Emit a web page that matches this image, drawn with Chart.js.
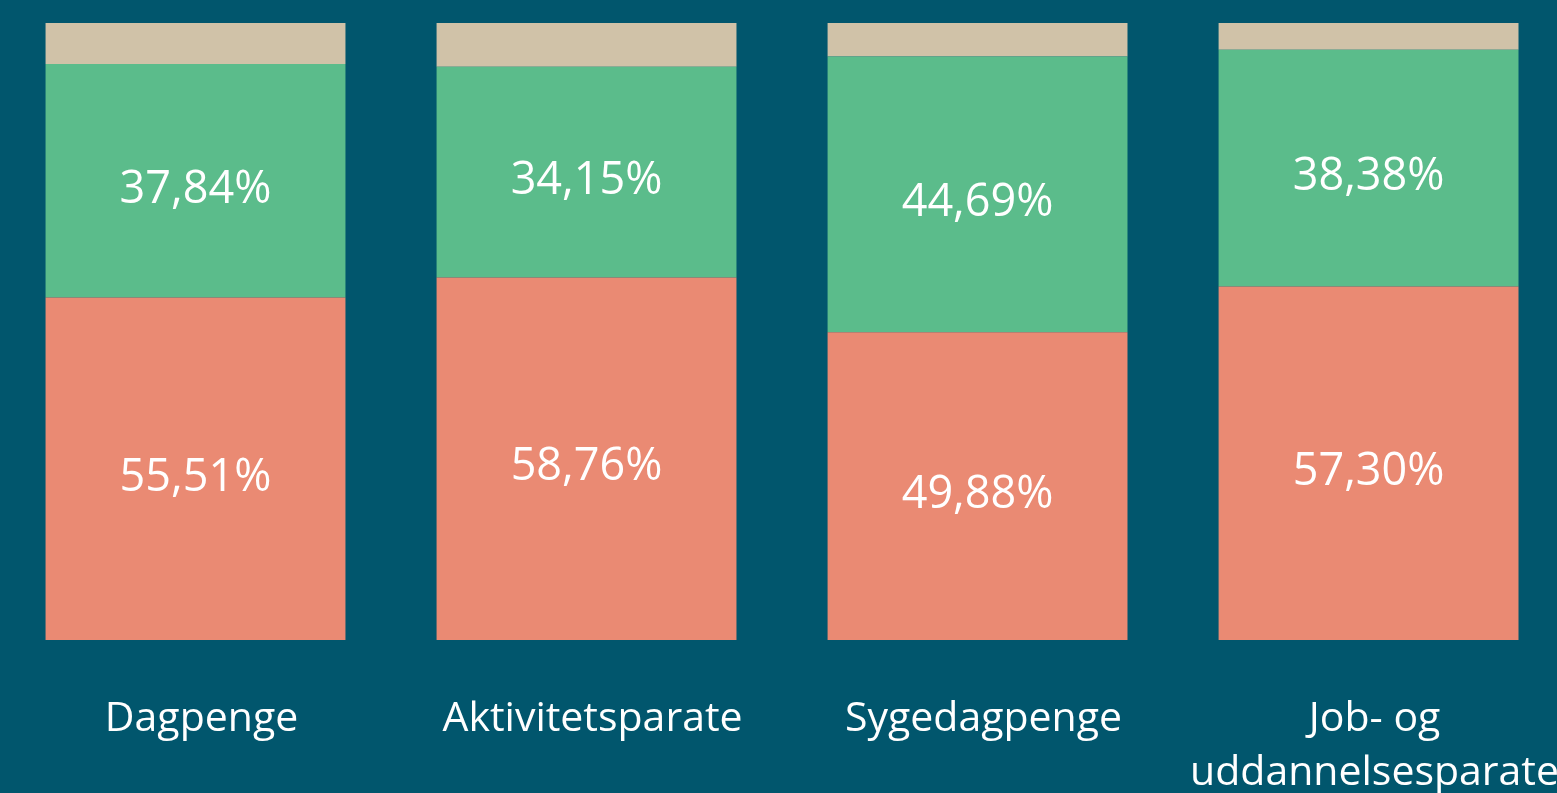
<!DOCTYPE html>
<html>
<head>
<meta charset="utf-8">
<script src="https://cdn.jsdelivr.net/npm/chart.js@4"></script>
<style>
  html, body { margin: 0; padding: 0; background: #01566d; overflow: hidden; }
  #chart { position: absolute; left: 0; top: 0; }
</style>
</head>
<body>
<canvas id="chart" width="1597" height="845"></canvas>
<script>
// kategorier og andele (procent)
const categories = ['Dagpenge', 'Aktivitetsparate', 'Sygedagpenge', ['Job- og', 'uddannelsesparate']];
const redValues = [55.51, 58.76, 49.88, 57.30];
const greenValues = [37.84, 34.15, 44.69, 38.38];
const beigeValues = [6.65, 7.09, 5.43, 4.32];

// skriver procenttal midt i de to nederste segmenter
const barLabels = {
    id: 'barLabels',
    afterDatasetsDraw(chart) {
        const ctx = chart.ctx;
        ctx.save();
        ctx.fillStyle = '#ffffff';
        ctx.font = '45px "Open Sans", sans-serif';
        ctx.textAlign = 'center';
        ctx.textBaseline = 'middle';
        [0, 1].forEach(di => {
            const meta = chart.getDatasetMeta(di);
            meta.data.forEach((bar, i) => {
                const v = chart.data.datasets[di].data[i];
                const txt = v.toFixed(2).replace('.', ',') + '%';
                ctx.fillText(txt, bar.x, (bar.y + bar.base) / 2 + 9);
            });
        });
        ctx.restore();
    }
};

new Chart(document.getElementById('chart'), {
    type: 'bar',
    data: {
        labels: categories,
        datasets: [
            { data: redValues, backgroundColor: '#ea8a73' },
            { data: greenValues, backgroundColor: '#5bbc8b' },
            { data: beigeValues, backgroundColor: '#d0c2a8' }
        ]
    },
    options: {
        responsive: false,
        animation: false,
        datasets: { bar: { barPercentage: 0.767, categoryPercentage: 1 } },
        layout: { padding: { top: 23, left: 0, right: 0, bottom: 0 } },
        plugins: { legend: { display: false }, tooltip: { enabled: false } },
        scales: {
            x: {
                stacked: true,
                grid: { display: false },
                border: { display: false },
                ticks: {
                    color: '#ffffff',
                    padding: 44,
                    labelOffset: 6,
                    maxRotation: 0,
                    autoSkip: false,
                    font: { family: '"Open Sans", sans-serif', size: 41, lineHeight: 1.33 }
                }
            },
            y: {
                stacked: true,
                display: false,
                min: 0,
                max: 100
            }
        }
    },
    plugins: [barLabels]
});
</script>
</body>
</html>
